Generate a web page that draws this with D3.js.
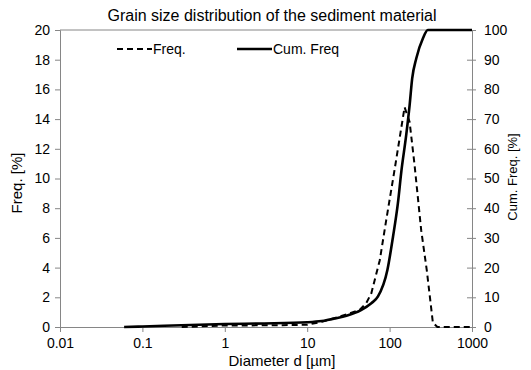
<!DOCTYPE html>
<html>
  <head>
    <meta charset="utf-8">
    <title>Grain size distribution</title>
    <script src="https://d3js.org/d3.v7.min.js"></script>
    <style>
      body { margin: 0; background: #fff; }
      svg { font-family: 'Liberation Sans', Arial, sans-serif; }
      .axis path, .axis line { stroke: #868686; }
      .axis text { font-size: 14px; fill: #000; }
    </style>
  </head>
  <body>
    <div id="chart"></div>
    <script>

    //********************
    // data
    //********************

    // frequency curve, diameter in µm / frequency in %
    var freqD   = [0.3, 1, 5, 10, 15, 20, 30, 43, 52, 60, 76, 91, 115, 152, 175, 201, 242, 283, 335, 380, 1000];
    var freqVal = [0, 0.1, 0.12, 0.15, 0.35, 0.55, 0.85, 1.14, 1.6, 2.27, 4.5, 7.2, 10.6, 14.8, 13.8, 10.9, 6.5, 3.8, 0.3, 0, 0];

    // cumulative curve, diameter in µm / cumulative %
    var cumD   = [0.06, 0.1, 0.3, 1, 3, 10, 15, 22, 30, 45, 60, 72, 94, 110, 126, 139, 159, 175, 188, 211, 254, 291, 1000];
    var cumVal = [0, 0.15, 0.6, 1.0, 1.2, 1.6, 2.0, 2.9, 3.8, 5.7, 8.0, 10.2, 19.2, 30.4, 41.6, 52.5, 64.6, 74.7, 83.7, 90.5, 97.2, 100, 100];

    var xTicks = [0.01, 0.1, 1, 10, 100, 1000];
    var yTicks = d3.range(0, 21, 2);
    var y2Ticks = d3.range(0, 101, 10);

    var freqData = freqD.map((d, i) => ({d: d, v: freqVal[i]}));
    var cumData = cumD.map((d, i) => ({d: d, v: cumVal[i]}));

    //********************
    // setup, scales
    //********************
    var width = 531,
        height = 370,
        margin = {top: 30, right: 59, bottom: 43, left: 60};

    var svg = d3.select("#chart").append("svg").attr("width", width).attr("height", height);

    var xScale = d3.scaleLog().domain([0.01, 1000]).range([margin.left, width - margin.right]);
    var yScale = d3.scaleLinear().domain([0, 20]).range([height - margin.bottom, margin.top]);
    var y2Scale = d3.scaleLinear().domain([0, 100]).range([height - margin.bottom, margin.top]);

    // top border of plot area
    svg.append("line")
        .attr("x1", margin.left).attr("x2", width - margin.right)
        .attr("y1", margin.top).attr("y2", margin.top)
        .attr("stroke", "#868686");

    var xAxis = svg.append("g").attr("class", "axis")
        .attr("transform", `translate(0, ${height - margin.bottom})`)
        .call(d3.axisBottom(xScale).tickValues(xTicks).tickFormat(d => String(d)).tickSize(5).tickPadding(6));

    var yAxis = svg.append("g").attr("class", "axis")
        .attr("transform", `translate(${margin.left}, 0)`)
        .call(d3.axisLeft(yScale).tickValues(yTicks).tickSize(5).tickPadding(5));

    var y2Axis = svg.append("g").attr("class", "axis")
        .attr("transform", `translate(${width - margin.right}, 0)`)
        .call(d3.axisRight(y2Scale).tickValues(y2Ticks).tickSize(4).tickPadding(8));
    // right ticks cross the axis
    y2Axis.selectAll(".tick line").attr("x1", -5);

    svg.selectAll(".axis .domain").attr("stroke-width", 1);

    //********************
    // lines
    //********************
    var lineF = d3.line().x(d => xScale(d.d)).y(d => yScale(d.v));
    var lineC = d3.line().x(d => xScale(d.d)).y(d => y2Scale(d.v)).curve(d3.curveMonotoneX);

    svg.append("path")
        .datum(cumData)
        .attr("fill", "none")
        .attr("stroke", "#000")
        .attr("stroke-width", 2.6)
        .attr("d", lineC);

    svg.append("path")
        .datum(freqData)
        .attr("fill", "none")
        .attr("stroke", "#000")
        .attr("stroke-width", 2)
        .attr("stroke-dasharray", "6,4")
        .attr("d", lineF);

    //********************
    // texts
    //********************
    svg.append("text")
        .attr("x", 272).attr("y", 21)
        .attr("text-anchor", "middle")
        .style("font-size", "16px")
        .text("Grain size distribution of the sediment material");

    svg.append("text")
        .attr("x", 282).attr("y", 366)
        .attr("text-anchor", "middle")
        .style("font-size", "15px")
        .text("Diameter d [µm]");

    svg.append("text")
        .attr("transform", "translate(22,183) rotate(-90)")
        .attr("text-anchor", "middle")
        .style("font-size", "15px")
        .text("Freq. [%]");

    svg.append("text")
        .attr("transform", "translate(517,177) rotate(-90)")
        .attr("text-anchor", "middle")
        .style("font-size", "13px")
        .text("Cum. Freq. [%]");

    //******
    //legend
    //******
    var legendData = [{name: "Freq.", dash: "6,4", w: 2, x: 117}, {name: "Cum. Freq", dash: null, w: 2.6, x: 237}];
    var legend = svg.append("g").attr("transform", "translate(0,49)");

    legend.selectAll("line.legend")
        .data(legendData)
        .enter().append("line")
        .attr("class", "legend")
        .attr("x1", d => d.x).attr("x2", d => d.x + 35)
        .attr("y1", 0).attr("y2", 0)
        .attr("stroke", "#000")
        .attr("stroke-width", d => d.w)
        .attr("stroke-dasharray", d => d.dash);

    legend.selectAll("text.legend")
        .data(legendData)
        .enter().append("text")
        .attr("class", "legend")
        .attr("x", d => d.x + 36)
        .attr("y", 5)
        .style("font-size", "14px")
        .text(d => d.name);

    </script>
  </body>
</html>
